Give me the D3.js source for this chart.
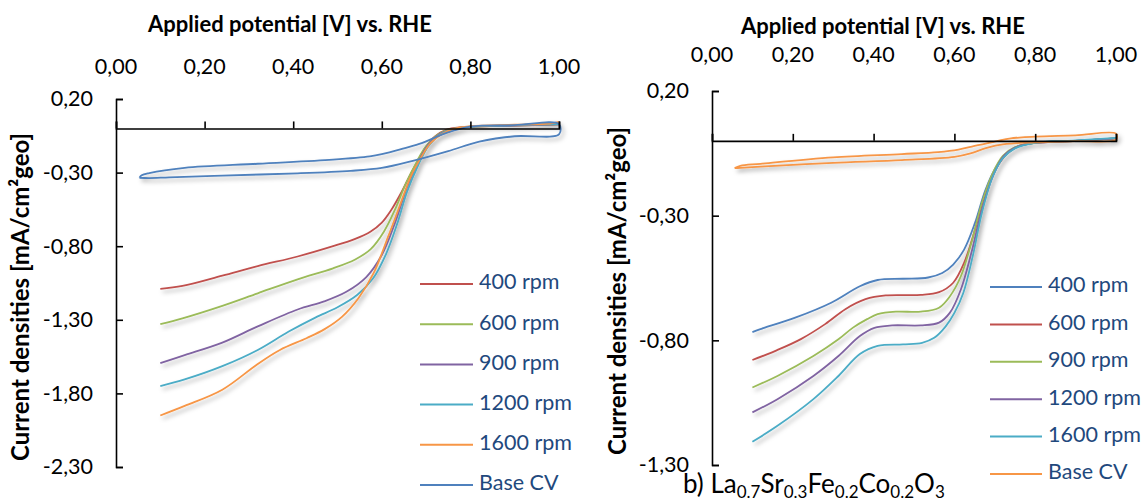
<!DOCTYPE html>
<html>
<head>
<meta charset="utf-8">
<script src="https://cdn.jsdelivr.net/npm/d3@7"></script>
<style>
  body { margin: 0; background: #fff; }
  svg { display: block; }
  text { font-family: Lato, "Open Sans", sans-serif; }
</style>
</head>
<body>
<svg id="chart" width="1143" height="504"></svg>
<script>
// ---- Panel a: LSV curves at several rotation rates, plus the base CV loop ----
const xTicks = [0, 0.2, 0.4, 0.6, 0.8, 1.0];
const leftYTicks = [0.2, -0.3, -0.8, -1.3, -1.8, -2.3];
const rightYTicks = [0.2, -0.3, -0.8, -1.3];
const seriesNames = ["400 rpm", "600 rpm", "900 rpm", "1200 rpm", "1600 rpm", "Base CV"];

const a400 = [[0.10,-1.09],[0.15,-1.07],[0.24,-1.00],[0.32,-0.935],[0.41,-0.87],[0.49,-0.80],[0.54,-0.75],[0.575,-0.70],[0.60,-0.64],[0.62,-0.56],[0.645,-0.43],[0.665,-0.31],[0.685,-0.20],[0.70,-0.125],[0.72,-0.055],[0.745,-0.01],[0.78,0.008],[0.85,0.016],[0.92,0.021],[1.0,0.027]];
const a600 = [[0.10,-1.33],[0.15,-1.29],[0.24,-1.205],[0.32,-1.12],[0.41,-1.025],[0.49,-0.95],[0.54,-0.89],[0.575,-0.82],[0.605,-0.70],[0.63,-0.55],[0.655,-0.37],[0.68,-0.22],[0.70,-0.12],[0.725,-0.045],[0.75,-0.008],[0.80,0.010],[0.90,0.020],[1.0,0.027]];
const a900 = [[0.10,-1.595],[0.155,-1.54],[0.24,-1.455],[0.32,-1.345],[0.41,-1.23],[0.47,-1.175],[0.52,-1.11],[0.565,-1.01],[0.60,-0.86],[0.63,-0.64],[0.657,-0.40],[0.682,-0.23],[0.705,-0.11],[0.73,-0.04],[0.76,-0.005],[0.80,0.012],[0.90,0.020],[1.0,0.028]];
const a1200 = [[0.10,-1.75],[0.155,-1.705],[0.24,-1.615],[0.32,-1.505],[0.39,-1.38],[0.45,-1.285],[0.50,-1.215],[0.545,-1.13],[0.58,-1.02],[0.61,-0.85],[0.635,-0.645],[0.657,-0.43],[0.682,-0.25],[0.705,-0.12],[0.73,-0.045],[0.76,-0.005],[0.80,0.012],[0.90,0.022],[1.0,0.030]];
const a1600 = [[0.10,-1.95],[0.155,-1.885],[0.24,-1.775],[0.32,-1.60],[0.37,-1.505],[0.43,-1.425],[0.47,-1.365],[0.51,-1.28],[0.548,-1.15],[0.582,-0.98],[0.615,-0.73],[0.64,-0.53],[0.665,-0.33],[0.69,-0.19],[0.71,-0.10],[0.735,-0.04],[0.76,-0.005],[0.80,0.015],[0.90,0.025],[0.98,0.033],[1.0,0.045]];
const aBaseCV = [[0.053,-0.335],[0.058,-0.318],[0.075,-0.303],[0.155,-0.268],[0.32,-0.240],[0.49,-0.212],[0.573,-0.190],[0.60,-0.175],[0.65,-0.135],[0.69,-0.10],[0.72,-0.062],[0.745,-0.032],[0.80,0.012],[0.90,0.022],[1.0,0.030],
                 [1.0,-0.040],[0.90,-0.053],[0.82,-0.090],[0.75,-0.154],[0.67,-0.220],[0.60,-0.268],[0.53,-0.288],[0.41,-0.305],[0.24,-0.320],[0.12,-0.332],[0.075,-0.337],[0.053,-0.335]];

// ---- Panel b: La0.7Sr0.3Fe0.2Co0.2O3 ----
const b400 = [[0.10,-0.767],[0.118,-0.756],[0.206,-0.709],[0.295,-0.649],[0.366,-0.583],[0.41,-0.558],[0.473,-0.553],[0.535,-0.548],[0.57,-0.530],[0.597,-0.496],[0.624,-0.436],[0.651,-0.329],[0.677,-0.196],[0.704,-0.103],[0.73,-0.050],[0.76,-0.020],[0.80,-0.008],[0.90,0.0],[1.0,0.010]];
const b600 = [[0.10,-0.879],[0.16,-0.840],[0.22,-0.795],[0.28,-0.735],[0.33,-0.675],[0.38,-0.635],[0.43,-0.620],[0.517,-0.618],[0.562,-0.607],[0.597,-0.569],[0.624,-0.489],[0.651,-0.356],[0.677,-0.209],[0.704,-0.109],[0.73,-0.052],[0.76,-0.020],[0.80,-0.008],[0.90,0.0],[1.0,0.010]];
const b900 = [[0.10,-0.989],[0.162,-0.943],[0.251,-0.863],[0.313,-0.796],[0.349,-0.749],[0.384,-0.715],[0.41,-0.695],[0.455,-0.685],[0.517,-0.685],[0.562,-0.669],[0.589,-0.623],[0.616,-0.543],[0.642,-0.409],[0.668,-0.249],[0.695,-0.129],[0.72,-0.060],[0.75,-0.025],[0.80,-0.008],[0.90,0.0],[1.0,0.010]];
const b1200 = [[0.10,-1.089],[0.162,-1.036],[0.251,-0.943],[0.313,-0.863],[0.366,-0.783],[0.402,-0.750],[0.446,-0.740],[0.517,-0.740],[0.562,-0.729],[0.589,-0.689],[0.616,-0.596],[0.642,-0.449],[0.668,-0.276],[0.695,-0.143],[0.72,-0.065],[0.75,-0.027],[0.80,-0.008],[0.90,0.0],[1.0,0.010]];
const b1600 = [[0.10,-1.207],[0.162,-1.143],[0.251,-1.036],[0.313,-0.943],[0.366,-0.855],[0.41,-0.822],[0.473,-0.816],[0.52,-0.810],[0.55,-0.790],[0.578,-0.745],[0.60,-0.690],[0.622,-0.610],[0.645,-0.465],[0.668,-0.289],[0.695,-0.143],[0.72,-0.069],[0.75,-0.030],[0.80,-0.008],[0.90,0.002],[1.0,0.012]];
const bBaseCV = [[0.056,-0.109],[0.07,-0.100],[0.12,-0.092],[0.30,-0.066],[0.47,-0.053],[0.56,-0.045],[0.61,-0.035],[0.65,-0.020],[0.70,-0.003],[0.74,0.010],[0.80,0.017],[0.90,0.022],[1.0,0.029],
                 [1.0,0.005],[0.90,-0.001],[0.80,-0.006],[0.72,-0.014],[0.68,-0.028],[0.64,-0.050],[0.60,-0.064],[0.47,-0.077],[0.30,-0.088],[0.12,-0.103],[0.07,-0.108],[0.056,-0.109]];

// Office 2010 palette
const blue = "#4F81BD", red = "#C0504D", green = "#9BBB59", purple = "#8064A2", aqua = "#4BACC6", orange = "#F79646";

const panels = [
  {
    xRange: [116, 559], yDomain: [-2.3, 0.2], yRange: [467, 99], yTicks: leftYTicks,
    series: [a400, a600, a900, a1200, a1600, aBaseCV],
    colors: [red, green, purple, aqua, orange, blue],
    titleX: 290, titleY: 26, tickLabelY: 69, yTitleX: 23, yTitleY: 297,
    legend: { x1: 420, x2: 473, y0: 284, dy: 40.2 }
  },
  {
    xRange: [712, 1116], yDomain: [-1.3, 0.2], yRange: [465, 91], yTicks: rightYTicks,
    series: [b400, b600, b900, b1200, b1600, bBaseCV],
    colors: [blue, red, green, purple, aqua, orange],
    titleX: 883, titleY: 28, tickLabelY: 57, yTitleX: 620, yTitleY: 291,
    legend: { x1: 990, x2: 1042, y0: 287, dy: 37.4 }
  }
];

const svg = d3.select("#chart");
const defs = svg.append("defs");
defs.append("filter").attr("id", "shadow")
  .attr("x", "-10%").attr("y", "-10%").attr("width", "130%").attr("height", "130%")
  .append("feDropShadow")
  .attr("dx", 2.5).attr("dy", 3).attr("stdDeviation", 2.2)
  .attr("flood-color", "#000").attr("flood-opacity", 0.3);

const loc = d3.formatLocale({ decimal: ",", thousands: ".", grouping: [3], currency: ["", ""], minus: "-" });
const fmt = loc.format(".2f");

panels.forEach(p => {
  const x = d3.scaleLinear().domain([0, 1]).range(p.xRange);
  const y = d3.scaleLinear().domain(p.yDomain).range(p.yRange);
  const g = svg.append("g");

  // axis title
  g.append("text").attr("x", p.titleX).attr("y", p.titleY)
    .attr("text-anchor", "middle").attr("dominant-baseline", "middle")
    .attr("font-size", 22).attr("font-weight", 700).attr("fill", "#000")
    .text("Applied potential [V] vs. RHE");

  // x tick labels along the top
  g.selectAll(".xlab").data(xTicks).join("text")
    .attr("x", d => x(d)).attr("y", p.tickLabelY)
    .attr("text-anchor", "middle").attr("dominant-baseline", "middle")
    .attr("font-size", 21.5).attr("fill", "#000")
    .text(d => fmt(d));

  // y title
  g.append("text")
    .attr("transform", `translate(${p.yTitleX},${p.yTitleY}) rotate(-90)`)
    .attr("text-anchor", "middle").attr("dominant-baseline", "middle")
    .attr("font-size", 24).attr("font-weight", 700).attr("fill", "#000")
    .text("Current densities [mA/cm²geo]");

  // curves
  const line = d3.line().x(d => x(d[0])).y(d => y(d[1])).curve(d3.curveCatmullRom.alpha(0.5));
  const cg = g.append("g").attr("filter", "url(#shadow)");
  p.series.forEach((s, i) => {
    cg.append("path").attr("d", line(s))
      .attr("fill", "none").attr("stroke", p.colors[i])
      .attr("stroke-width", 1.8).attr("stroke-linejoin", "round");
  });

  // x axis along j = 0, ticks pointing up, no labels
  const xa = g.append("g").attr("transform", `translate(0,${y(0)})`)
    .call(d3.axisTop(x).tickValues(xTicks).tickSize(7).tickSizeOuter(7).tickFormat(""));
  // y axis at v = 0, ticks pointing inward
  const ya = g.append("g").attr("transform", `translate(${x(0)},0)`)
    .call(d3.axisLeft(y).tickValues(p.yTicks).tickSize(-7).tickSizeOuter(-7).tickPadding(23).tickFormat(fmt));
  [xa, ya].forEach(a => {
    a.selectAll("path,line").attr("stroke", "#000").attr("stroke-width", 1.6);
  });
  ya.selectAll("text").attr("font-size", 21.5).attr("fill", "#000")
    .attr("font-family", "Lato, 'Open Sans', sans-serif");

  // legend
  const lg = g.append("g");
  seriesNames.forEach((n, i) => {
    const ly = p.legend.y0 + i * p.legend.dy;
    lg.append("line").attr("x1", p.legend.x1).attr("x2", p.legend.x2)
      .attr("y1", ly).attr("y2", ly).attr("stroke", p.colors[i]).attr("stroke-width", 2);
    lg.append("text").attr("x", p.legend.x2 + 6).attr("y", ly)
      .attr("dominant-baseline", "middle").attr("font-size", 21.5).attr("fill", "#1F497D")
      .text(n);
  });
});

// caption under panel b
const cap = svg.append("text").attr("x", 683).attr("y", 493).attr("font-size", 26).attr("fill", "#000");
const parts = [["b) La", false], ["0.7", true], ["Sr", false], ["0.3", true], ["Fe", false], ["0.2", true], ["Co", false], ["0.2", true], ["O", false], ["3", true]];
let shifted = false;
parts.forEach(([t, sub]) => {
  const ts = cap.append("tspan").text(t);
  if (sub) { ts.attr("font-size", 17); if (!shifted) { ts.attr("dy", 5); shifted = true; } }
  else if (shifted) { ts.attr("dy", -5); shifted = false; }
});
</script>
</body>
</html>
